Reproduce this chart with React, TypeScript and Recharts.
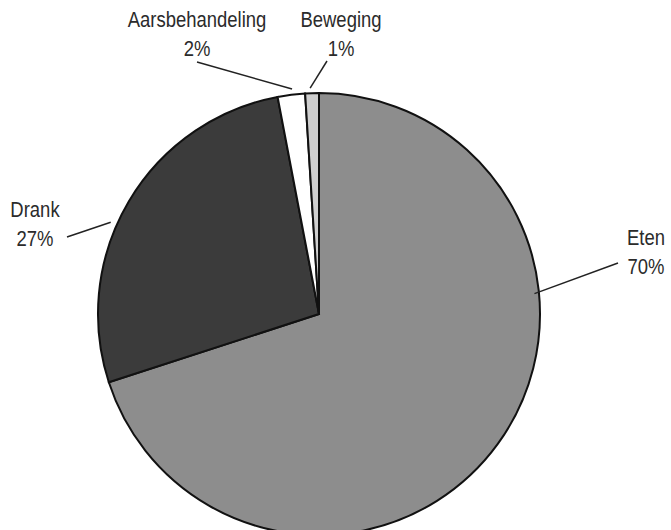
import { PieChart, Pie, Cell } from 'recharts';

const categories = ['Eten', 'Drank', 'Aarsbehandeling', 'Beweging'];
const shares = [70, 27, 2, 1];
const colors = ['#8d8d8d', '#3b3b3b', '#ffffff', '#cfcfcf'];

// label placement: angle where the leader line meets the pie, far end of the line, text centre/baseline
const anchorAngles = [4, 156.9, 95.7, 91];
const lineEnds = [[304, -46], [-247, -72], [-117, -247], [13, -248]];
const textPos = [[332, -64], [-279, -92], [-117, -282], [27, -282]];

const CX = 314;
const CY = 309;
const R = 221;

const data = categories.map((name, i) => ({ name, value: shares[i] }));

const RAD = Math.PI / 180;

function renderLabel(props: any) {
  const i = props.index;
  const a = anchorAngles[i] * RAD;
  const x1 = CX + R * Math.cos(a);
  const y1 = CY - R * Math.sin(a);
  const x2 = CX + lineEnds[i][0];
  const y2 = CY + lineEnds[i][1];
  const tx = CX + textPos[i][0];
  const ty = CY + textPos[i][1];
  return (
    <g key={'lbl' + i}>
      <line x1={x1} y1={y1} x2={x2} y2={y2} stroke="#222" strokeWidth={1.5} />
      <g transform={`translate(${tx},${ty}) scale(0.84,1)`}>
        <text x={0} y={0} textAnchor="middle" fill="#2b2b2b" fontSize={22}
          fontFamily="'Liberation Sans', Arial, sans-serif">
          <tspan x={0} dy={0}>{categories[i]}</tspan>
          <tspan x={0} dy={29}>{shares[i] + '%'}</tspan>
        </text>
      </g>
    </g>
  );
}

export default function App() {
  return (
    <div>
      <style>{'body{margin:0}'}</style>
      <PieChart width={671} height={530}>
        <Pie
          data={data}
          dataKey="value"
          nameKey="name"
          cx={CX}
          cy={CY}
          outerRadius={R}
          startAngle={90}
          endAngle={-270}
          stroke="#111"
          strokeWidth={2}
          label={renderLabel}
          labelLine={false}
          isAnimationActive={false}
        >
          {data.map((d, i) => (
            <Cell key={d.name} fill={colors[i]} />
          ))}
        </Pie>
      </PieChart>
    </div>
  );
}
